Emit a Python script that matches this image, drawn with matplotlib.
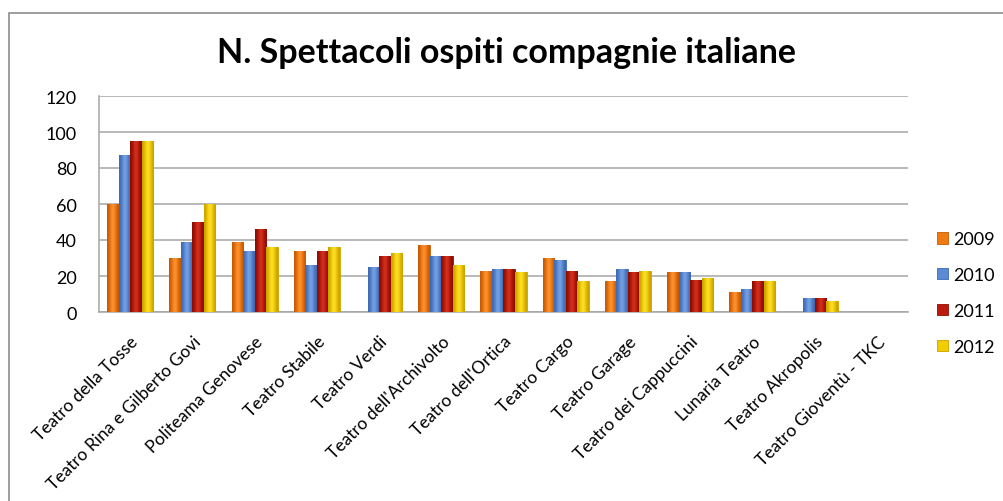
import matplotlib
matplotlib.use("Agg")
import matplotlib.pyplot as plt
from matplotlib.patches import Rectangle
from matplotlib.colors import to_rgb
import numpy as np

teatri = ["Teatro della Tosse", "Teatro Rina e Gilberto Govi", "Politeama Genovese",
          "Teatro Stabile", "Teatro Verdi", "Teatro dell'Archivolto", "Teatro dell'Ortica",
          "Teatro Cargo", "Teatro Garage", "Teatro dei Cappuccini", "Lunaria Teatro",
          "Teatro Akropolis", "Teatro Gioventù - TKC"]
anni = ["2009", "2010", "2011", "2012"]
v2009 = [60, 30, 39, 34, 0, 37, 23, 30, 17, 22, 11, 0, 0]
v2010 = [87, 39, 34, 26, 25, 31, 24, 29, 24, 22, 13, 8, 0]
v2011 = [95, 50, 46, 34, 31, 31, 24, 23, 22, 18, 17, 8, 0]
v2012 = [95, 60, 36, 36, 33, 26, 22, 17, 23, 19, 17, 6, 0]

colori = ["#F07A12", "#5B8BD4", "#BC1A0C", "#F2CD00"]
chiari = ["#FF9A3A", "#7FA8E8", "#D83A26", "#FFE23A"]
scuri = ["#C45A06", "#3E69B0", "#8C0E04", "#C9A200"]

plt.rcParams['font.family'] = ['Lato', 'DejaVu Sans']

fig = plt.figure(figsize=(10.04, 5.02), dpi=100)
ax = fig.add_axes([99/1004, 1-313/502, (908-99)/1004, (313-97)/502])

x = np.arange(len(teatri))
w = 0.185
serie = [v2009, v2010, v2011, v2012]
for k, vals in enumerate(serie):
    bars = ax.bar(x + (k - 1.5) * w, vals, w, color=colori[k], edgecolor=scuri[k],
                  linewidth=0.6, label=anni[k], zorder=3)
    # sfumatura orizzontale tipo Excel
    grad = np.array([to_rgb(scuri[k]), to_rgb(colori[k]), to_rgb(chiari[k]),
                     to_rgb(colori[k]), to_rgb(scuri[k])])[None, :, :]
    for b in bars:
        if b.get_height() <= 0:
            continue
        im = ax.imshow(grad, extent=[b.get_x(), b.get_x() + b.get_width(), 0, b.get_height()],
                       aspect='auto', interpolation='bicubic', zorder=3.5)
        im.set_clip_path(b)

ax.set_xlim(-0.5, len(teatri) - 0.5)
ax.set_ylim(0, 120)
ax.set_yticks(range(0, 121, 20))
ax.grid(axis='y', color='#A6A6A6', linewidth=1.1, zorder=0)
ax.tick_params(axis='both', length=0, labelsize=13, colors='#000000')
ax.tick_params(axis='y', pad=16)
ax.set_xticks(x)
ax.set_xticklabels(teatri, rotation=45, ha='right', va='top', rotation_mode='anchor')
ax.tick_params(axis='x', pad=15, labelsize=12.5)
for s in ['top', 'right']:
    ax.spines[s].set_visible(False)
ax.spines['left'].set_color('#A6A6A6')
ax.spines['bottom'].set_color('#A6A6A6')
ax.spines['left'].set_linewidth(1.1)
ax.spines['bottom'].set_linewidth(1.1)

fig.text(0.504, 1-53/502, "N. Spettacoli ospiti compagnie italiane", ha='center',
         va='center', fontsize=24.5, fontweight='bold')

leg = fig.legend(loc='center left', bbox_to_anchor=(937/1004, 1-294/502), frameon=False,
                 fontsize=13, handlelength=0.6, handleheight=0.6, handletextpad=0.3,
                 labelspacing=1.1, borderpad=0, borderaxespad=0)

fig.add_artist(Rectangle((9/1004, -0.2), 1.2, 1.2 - 14/502, transform=fig.transFigure,
                         fill=False, edgecolor='#8C8C8C', linewidth=1.2))

fig.savefig("out.png", dpi=100)
